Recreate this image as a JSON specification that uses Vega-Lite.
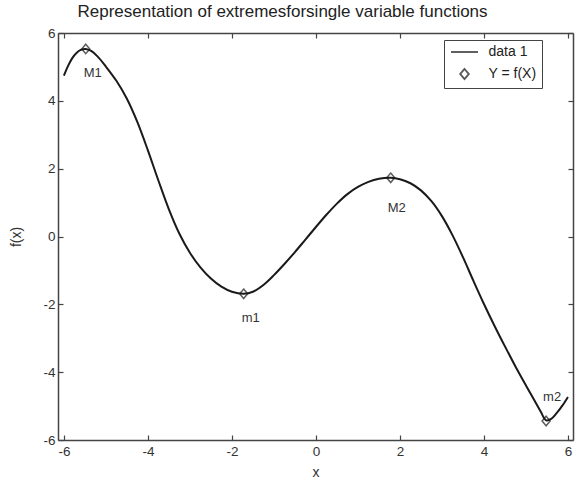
{
  "$schema": "https://vega.github.io/schema/vega-lite/v6.json",
  "width": 515,
  "height": 407,
  "autosize": {"type": "none"},
  "padding": {"left": 58, "top": 33, "right": 3, "bottom": 46},
  "background": "white",
  "config": {
    "font": "Liberation Sans",
    "view": {"stroke": null},
    "axis": {
      "grid": false,
      "domainColor": "#444",
      "domainWidth": 1.5,
      "tickColor": "#444",
      "tickWidth": 1.2,
      "tickSize": -5,
      "labelFontSize": 13.5,
      "labelColor": "#333",
      "labelFlush": false,
      "labelExpr": "datum.value < 0 ? '-' + abs(datum.value) : '' + datum.value",
      "titleFontSize": 14,
      "titleFontWeight": "normal",
      "titleColor": "#333"
    }
  },
  "title": {
    "text": "Representation of extremesforsingle variable functions",
    "fontSize": 17,
    "fontWeight": "normal",
    "color": "#222",
    "anchor": "middle",
    "dx": -33,
    "offset": 5
  },
  "datasets": {
    "curve": [
      {"x": -6.0, "y": 4.74},
      {"x": -5.9, "y": 5.03},
      {"x": -5.8, "y": 5.26},
      {"x": -5.7, "y": 5.41},
      {"x": -5.6, "y": 5.5},
      {"x": -5.48, "y": 5.53},
      {"x": -5.35, "y": 5.47},
      {"x": -5.2, "y": 5.31},
      {"x": -5.0, "y": 5.01},
      {"x": -4.75, "y": 4.59},
      {"x": -4.5, "y": 4.06},
      {"x": -4.25, "y": 3.37},
      {"x": -4.0, "y": 2.54},
      {"x": -3.75, "y": 1.65},
      {"x": -3.5, "y": 0.8},
      {"x": -3.25, "y": 0.08},
      {"x": -3.0, "y": -0.48},
      {"x": -2.75, "y": -0.91},
      {"x": -2.5, "y": -1.24},
      {"x": -2.25, "y": -1.48},
      {"x": -2.0, "y": -1.63},
      {"x": -1.72, "y": -1.69},
      {"x": -1.5, "y": -1.63},
      {"x": -1.25, "y": -1.43},
      {"x": -1.0, "y": -1.14},
      {"x": -0.75, "y": -0.81},
      {"x": -0.5, "y": -0.46},
      {"x": -0.25, "y": -0.09},
      {"x": 0.0, "y": 0.28},
      {"x": 0.25, "y": 0.64},
      {"x": 0.5, "y": 0.97},
      {"x": 0.75, "y": 1.25},
      {"x": 1.0, "y": 1.46},
      {"x": 1.25, "y": 1.61},
      {"x": 1.5, "y": 1.7},
      {"x": 1.78, "y": 1.73},
      {"x": 2.0, "y": 1.69},
      {"x": 2.25, "y": 1.57},
      {"x": 2.5, "y": 1.36},
      {"x": 2.75, "y": 1.04},
      {"x": 3.0, "y": 0.6},
      {"x": 3.25, "y": 0.04},
      {"x": 3.5, "y": -0.61},
      {"x": 3.75, "y": -1.31},
      {"x": 4.0, "y": -1.99},
      {"x": 4.25, "y": -2.63},
      {"x": 4.5, "y": -3.24},
      {"x": 4.75, "y": -3.83},
      {"x": 5.0, "y": -4.39},
      {"x": 5.2, "y": -4.83},
      {"x": 5.35, "y": -5.16},
      {"x": 5.48, "y": -5.42},
      {"x": 5.6, "y": -5.38},
      {"x": 5.73, "y": -5.21},
      {"x": 5.87, "y": -4.98},
      {"x": 6.0, "y": -4.73}
    ],
    "extrema": [
      {"x": -5.48, "y": 5.53, "label": "M1", "series": "Y = f(X)"},
      {"x": -1.72, "y": -1.69, "label": "m1", "series": "Y = f(X)"},
      {"x": 1.78, "y": 1.73, "label": "M2", "series": "Y = f(X)"},
      {"x": 5.48, "y": -5.44, "label": "m2", "series": "Y = f(X)"}
    ]
  },
  "resolve": {"axis": {"x": "independent", "y": "independent"}},
  "layer": [
    {
      "data": {"name": "curve"},
      "mark": {"type": "line", "color": "#1a1a1a", "strokeWidth": 2, "interpolate": "catmull-rom"},
      "encoding": {
        "x": {
          "field": "x", "type": "quantitative",
          "scale": {"domain": [-6.14, 6.12], "nice": false, "zero": false},
          "axis": {"orient": "bottom", "values": [-6, -4, -2, 0, 2, 4, 6], "labelPadding": 9, "title": "x", "titlePadding": 8}
        },
        "y": {
          "field": "y", "type": "quantitative",
          "scale": {"domain": [-6, 6], "nice": false, "zero": false},
          "axis": {"orient": "left", "values": [-6, -4, -2, 0, 2, 4, 6], "labelPadding": 8, "title": "f(x)", "titlePadding": 19}
        }
      }
    },
    {
      "data": {"name": "extrema"},
      "mark": {"type": "point", "filled": false, "stroke": "#1a1a1a", "strokeWidth": 1.5, "size": 90},
      "encoding": {
        "x": {"field": "x", "type": "quantitative", "axis": {"orient": "top", "values": [-6, -4, -2, 0, 2, 4, 6], "labels": false, "title": null}},
        "y": {"field": "y", "type": "quantitative", "axis": {"orient": "right", "values": [-6, -4, -2, 0, 2, 4, 6], "labels": false, "title": null}},
        "shape": {
          "field": "series", "type": "nominal",
          "scale": {"domain": ["data 1", "Y = f(X)"], "range": ["M-2.7,0H2.7", "M0,-1L0.85,0L0,1L-0.85,0Z"]},
          "legend": {
            "title": null,
            "orient": "none",
            "legendX": 386,
            "legendY": 7,
            "padding": 5,
            "strokeColor": "#444",
            "fillColor": "white",
            "symbolSize": 100,
            "symbolStrokeColor": "#111",
            "symbolStrokeWidth": 1.9,
            "symbolFillColor": "transparent",
            "symbolOffset": 8.5,
            "labelFontSize": 14,
            "labelColor": "#222",
            "labelOffset": 17,
            "rowPadding": 6,
            "labelExpr": "datum.value == 'data 1' ? datum.label : '\u00a0\u00a0\u00a0' + datum.label + '\u00a0\u00a0'"
          }
        }
      }
    },
    {
      "data": {"name": "extrema"},
      "transform": [{"filter": "datum.label === 'M1' || datum.label === 'm1'"}],
      "mark": {"type": "text", "dx": 7, "dy": 24, "fontSize": 13, "color": "#333"},
      "encoding": {
        "x": {"field": "x", "type": "quantitative", "axis": null},
        "y": {"field": "y", "type": "quantitative", "axis": null},
        "text": {"field": "label"}
      }
    },
    {
      "data": {"name": "extrema"},
      "transform": [{"filter": "datum.label === 'M2'"}],
      "mark": {"type": "text", "dx": 6, "dy": 30, "fontSize": 13, "color": "#333"},
      "encoding": {
        "x": {"field": "x", "type": "quantitative", "axis": null},
        "y": {"field": "y", "type": "quantitative", "axis": null},
        "text": {"field": "label"}
      }
    },
    {
      "data": {"name": "extrema"},
      "transform": [{"filter": "datum.label === 'm2'"}],
      "mark": {"type": "text", "dx": 6, "dy": -24, "fontSize": 13, "color": "#333"},
      "encoding": {
        "x": {"field": "x", "type": "quantitative", "axis": null},
        "y": {"field": "y", "type": "quantitative", "axis": null},
        "text": {"field": "label"}
      }
    }
  ]
}
